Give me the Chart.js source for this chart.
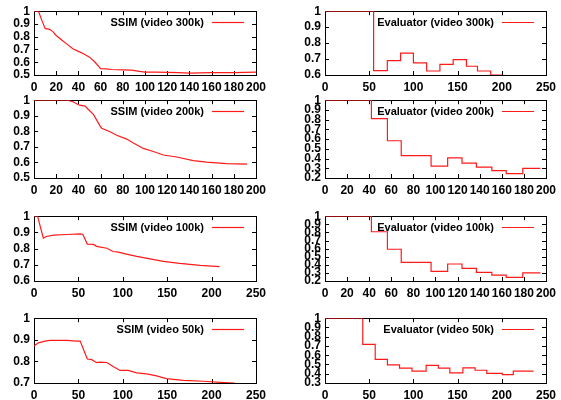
<!DOCTYPE html>
<html>
<head>
<meta charset="utf-8">
<script src="https://cdn.jsdelivr.net/npm/chart.js@4/dist/chart.umd.min.js"></script>
<style>
  html, body { margin: 0; padding: 0; background: #fff; overflow: hidden; }
  #wrap { position: relative; width: 561px; height: 400px; }
  #wrap canvas { position: absolute; }
</style>
</head>
<body>
<div id="wrap"></div>
<script>
// SSIM curves (frame x, ssim y)
const ssim300X = [0, 4, 7, 10, 14, 17, 20, 25, 30, 35, 40, 45, 50, 55, 60, 65, 70, 80, 88, 95, 100, 110, 120, 130, 140, 150, 160, 170, 180, 190, 200];
const ssim300Y = [1, 1, 0.93, 0.865, 0.858, 0.84, 0.81, 0.775, 0.74, 0.705, 0.685, 0.665, 0.64, 0.6, 0.55, 0.548, 0.543, 0.54, 0.538, 0.528, 0.523, 0.522, 0.52, 0.519, 0.515, 0.517, 0.518, 0.518, 0.519, 0.52, 0.522];

const ssim200X = [0, 10, 20, 30, 35, 41, 46, 49, 53.5, 59.5, 61, 68.5, 74.5, 83.5, 89.5, 98.5, 107.5, 116.5, 128.5, 143.5, 155.5, 173.5, 192];
const ssim200Y = [1, 1, 1, 1, 0.99, 0.968, 0.962, 0.94, 0.909, 0.835, 0.82, 0.797, 0.775, 0.75, 0.725, 0.69, 0.67, 0.648, 0.635, 0.612, 0.602, 0.593, 0.589];

const ssim100X = [0, 4, 10.5, 14, 22, 37, 52, 55, 60, 67, 70.5, 82, 89, 95, 104, 115.6, 130.6, 145.6, 164, 187, 209];
const ssim100Y = [1, 1, 0.865, 0.875, 0.883, 0.887, 0.891, 0.887, 0.828, 0.826, 0.814, 0.802, 0.782, 0.778, 0.766, 0.752, 0.737, 0.721, 0.709, 0.697, 0.689];

const ssim50X = [0, 5, 12.4, 18, 29, 37, 48, 52, 60, 65, 70.5, 74, 82, 89, 97, 106, 115.6, 127, 138, 149, 168, 191, 209.5, 226];
const ssim50Y = [0.871, 0.886, 0.894, 0.897, 0.898, 0.897, 0.894, 0.894, 0.811, 0.808, 0.794, 0.797, 0.795, 0.776, 0.758, 0.758, 0.747, 0.742, 0.733, 0.72, 0.712, 0.708, 0.703, 0.7];

// Evaluator scores, one entry per step start (last entry closes the final step)
const eval300X = [0, 55, 70.5, 85.5, 100, 115, 130, 145, 160, 172.5, 187.5, 200.5];
const eval300Y = [1, 0.627, 0.69, 0.737, 0.676, 0.625, 0.666, 0.696, 0.655, 0.625, 0.6, 0.6];

const eval200X = [0, 42, 56.5, 69, 96, 111, 124, 137, 151, 164, 179, 195];
const eval200Y = [1, 0.81, 0.583, 0.43, 0.322, 0.407, 0.353, 0.312, 0.275, 0.244, 0.3, 0.3];

const eval100X = [0, 42, 56.5, 69, 96, 111, 124, 137, 151, 164, 179, 195];
const eval100Y = [1, 0.808, 0.592, 0.43, 0.32, 0.41, 0.355, 0.306, 0.273, 0.245, 0.3, 0.3];

const eval50X = [0, 42.7, 56.8, 70.6, 84.3, 98.4, 114.4, 128.2, 141.2, 156, 169.8, 183, 200.6, 213, 236];
const eval50Y = [1, 0.717, 0.555, 0.495, 0.46, 0.428, 0.49, 0.46, 0.41, 0.463, 0.438, 0.403, 0.39, 0.428, 0.428];

const panels = [
  { label: 'SSIM (video 300k)', xs: ssim300X, ys: ssim300Y, step: false, xMax: 200, xStep: 20, yMin: 0.5, col: 0, row: 0 },
  { label: 'Evaluator (video 300k)', xs: eval300X, ys: eval300Y, step: true, xMax: 250, xStep: 50, yMin: 0.6, col: 1, row: 0 },
  { label: 'SSIM (video 200k)', xs: ssim200X, ys: ssim200Y, step: false, xMax: 200, xStep: 20, yMin: 0.5, col: 0, row: 1 },
  { label: 'Evaluator (video 200k)', xs: eval200X, ys: eval200Y, step: true, xMax: 200, xStep: 20, yMin: 0.2, col: 1, row: 1 },
  { label: 'SSIM (video 100k)', xs: ssim100X, ys: ssim100Y, step: false, xMax: 250, xStep: 50, yMin: 0.6, col: 0, row: 2 },
  { label: 'Evaluator (video 100k)', xs: eval100X, ys: eval100Y, step: true, xMax: 200, xStep: 20, yMin: 0.2, col: 1, row: 2 },
  { label: 'SSIM (video 50k)', xs: ssim50X, ys: ssim50Y, step: false, xMax: 250, xStep: 50, yMin: 0.7, col: 0, row: 3 },
  { label: 'Evaluator (video 50k)', xs: eval50X, ys: eval50Y, step: true, xMax: 250, xStep: 50, yMin: 0.3, col: 1, row: 3 }
];

// grid geometry
const cols = [
  { left: 0, width: 280, axisW: 34, padRight: 24 },
  { left: 280, width: 281, axisW: 45, padRight: 12 }
];
const rows = [
  { top: 10, h: 65 },
  { top: 99, h: 79 },
  { top: 215, h: 66 },
  { top: 317, h: 66 }
];
const PAD_TOP = 10;
const X_AXIS_H = 22;
const LINE_RED = '#ff1a1a';

Chart.defaults.font.family = "'Liberation Sans', Arial, sans-serif";
Chart.defaults.font.size = 12;
Chart.defaults.font.weight = 'bold';
Chart.defaults.color = '#000';

// frame with inward tick marks, then a gnuplot-like key on top of the curve
const framePlugin = {
  id: 'frame',
  beforeDatasetsDraw(chart) {
    const { ctx, chartArea: a, scales: { x, y } } = chart;
    ctx.save();
    ctx.strokeStyle = '#000';
    ctx.lineWidth = 1;
    ctx.beginPath();
    x.ticks.forEach(t => {
      const px = Math.round(x.getPixelForValue(t.value)) + 0.5;
      ctx.moveTo(px, a.bottom); ctx.lineTo(px, a.bottom - 4);
      ctx.moveTo(px, a.top); ctx.lineTo(px, a.top + 4);
    });
    y.ticks.forEach(t => {
      const py = Math.round(y.getPixelForValue(t.value)) + 0.5;
      ctx.moveTo(a.left, py); ctx.lineTo(a.left + 4, py);
      ctx.moveTo(a.right, py); ctx.lineTo(a.right - 4, py);
    });
    ctx.stroke();
    ctx.strokeRect(Math.round(a.left) + 0.5, Math.round(a.top) + 0.5,
      Math.round(a.right - a.left), Math.round(a.bottom - a.top));
    ctx.restore();
  },
  afterDatasetsDraw(chart) {
    const { ctx, chartArea: a } = chart;
    const ds = chart.data.datasets[0];
    const ky = Math.round(a.top + 11) + 0.5;
    ctx.save();
    ctx.font = "bold 11px 'Liberation Sans', Arial, sans-serif";
    ctx.fillStyle = '#000';
    ctx.textAlign = 'right';
    ctx.textBaseline = 'middle';
    ctx.fillText(ds.label, a.right - 52, ky);
    ctx.strokeStyle = LINE_RED;
    ctx.lineWidth = 1.2;
    ctx.beginPath();
    ctx.moveTo(a.right - 44, ky);
    ctx.lineTo(a.right - 12, ky);
    ctx.stroke();
    ctx.restore();
  }
};

const wrap = document.getElementById('wrap');

panels.forEach(p => {
  const c = cols[p.col];
  const r = rows[p.row];
  const canvas = document.createElement('canvas');
  const h = PAD_TOP + r.h + X_AXIS_H;
  canvas.width = c.width;
  canvas.height = h;
  canvas.style.left = c.left + 'px';
  canvas.style.top = (r.top - PAD_TOP) + 'px';
  canvas.style.width = c.width + 'px';
  canvas.style.height = h + 'px';
  wrap.appendChild(canvas);

  new Chart(canvas.getContext('2d'), {
    type: 'line',
    data: {
      datasets: [{
        label: p.label,
        data: p.xs.map((x, i) => ({ x: x, y: p.ys[i] })),
        borderColor: LINE_RED,
        borderWidth: 1.2,
        pointRadius: 0,
        fill: false,
        tension: 0,
        stepped: p.step
      }]
    },
    options: {
      responsive: false,
      animation: false,
      devicePixelRatio: 1,
      layout: { padding: { top: PAD_TOP, right: c.padRight, left: 0, bottom: 0 } },
      plugins: { legend: { display: false }, tooltip: { enabled: false } },
      scales: {
        x: {
          type: 'linear',
          min: 0,
          max: p.xMax,
          grid: { display: false, drawTicks: false },
          border: { display: false },
          ticks: { stepSize: p.xStep, autoSkip: false, maxRotation: 0, padding: 5 },
          afterFit: s => { s.height = X_AXIS_H; }
        },
        y: {
          type: 'linear',
          min: p.yMin,
          max: 1,
          grid: { display: false, drawTicks: false },
          border: { display: false },
          ticks: {
            stepSize: 0.1,
            autoSkip: false,
            padding: 4,
            callback: v => String(Math.round(v * 10) / 10)
          },
          afterFit: s => { s.width = c.axisW; }
        }
      }
    },
    plugins: [framePlugin]
  });
});
</script>
</body>
</html>
